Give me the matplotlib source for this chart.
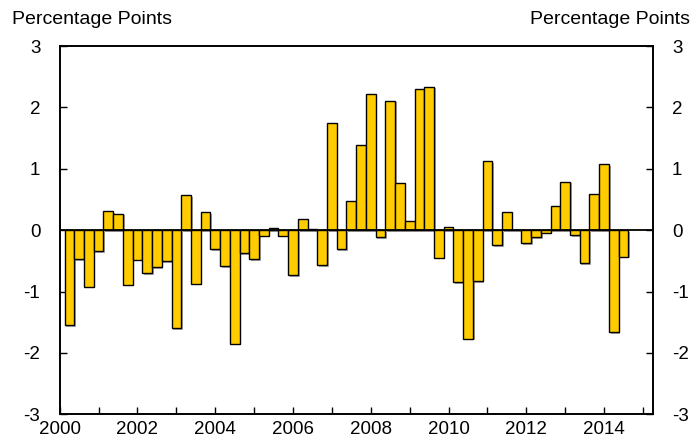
import matplotlib
matplotlib.use("Agg")
import matplotlib.pyplot as plt
import matplotlib.patheffects as pe
import numpy as np

plt.rcParams['font.family'] = ['Liberation Sans', 'DejaVu Sans']

# quarterly values, 2000Q1 .. 2014Q2
start_year = 2000
values = [
    -1.55, -0.47, -0.92, -0.34,   # 2000
    0.31, 0.27, -0.89, -0.48,     # 2001
    -0.70, -0.60, -0.51, -1.60,   # 2002
    0.57, -0.87, 0.29, -0.31,     # 2003
    -0.59, -1.85, -0.37, -0.47,   # 2004
    -0.09, 0.03, -0.09, -0.73,    # 2005
    0.18, 0.02, -0.57, 1.74,      # 2006
    -0.31, 0.48, 1.38, 2.22,      # 2007
    -0.11, 2.11, 0.77, 0.15,      # 2008
    2.30, 2.34, -0.45, 0.05,      # 2009
    -0.85, -1.77, -0.83, 1.12,    # 2010
    -0.24, 0.30, 0.01, -0.21,     # 2011
    -0.11, -0.04, 0.39, 0.79,     # 2012
    -0.08, -0.54, 0.59, 1.07,     # 2013
    -1.66, -0.43,                 # 2014
]
year_ticks = list(range(2000, 2016))
year_labels = [str(y) if y % 2 == 0 and y < 2015 else '' for y in year_ticks]
y_ticks = [-3, -2, -1, 0, 1, 2, 3]

x = start_year + 0.25 * (np.arange(len(values)) + 1)

fig = plt.figure(figsize=(6.93, 4.45), dpi=100)
ax = fig.add_axes([0.0862, 0.069, 0.8556, 0.8276])

bars = ax.bar(x, values, width=0.25, color='#FFCC00', edgecolor='black',
              linewidth=1.0, zorder=3)
for b in bars:
    b.set_path_effects([pe.SimplePatchShadow(offset=(1.2, -1.2),
                                             shadow_rgbFace='#555555', alpha=0.5),
                        pe.Normal()])

ax.axhline(0, color='black', linewidth=1.3, zorder=4)

ax.set_xlim(2000, 2015.25)
ax.set_ylim(-3, 3)
ax.set_xticks(year_ticks)
ax.set_xticklabels(year_labels)
ax.set_yticks(y_ticks)
ax.set_yticklabels([str(v) for v in y_ticks])

ax.tick_params(axis='both', direction='in', length=5, width=1, labelsize=13.5,
               colors='black')
ax.tick_params(axis='y', right=True, labelright=True, pad=14)
ax.tick_params(axis='x', pad=5)

for s in ax.spines.values():
    s.set_linewidth(1.4)

fig.text(0.017, 0.956, 'Percentage Points', fontsize=14, ha='left', va='center')
fig.text(0.996, 0.956, 'Percentage Points', fontsize=14, ha='right', va='center')

fig.savefig('out.png', dpi=100)
